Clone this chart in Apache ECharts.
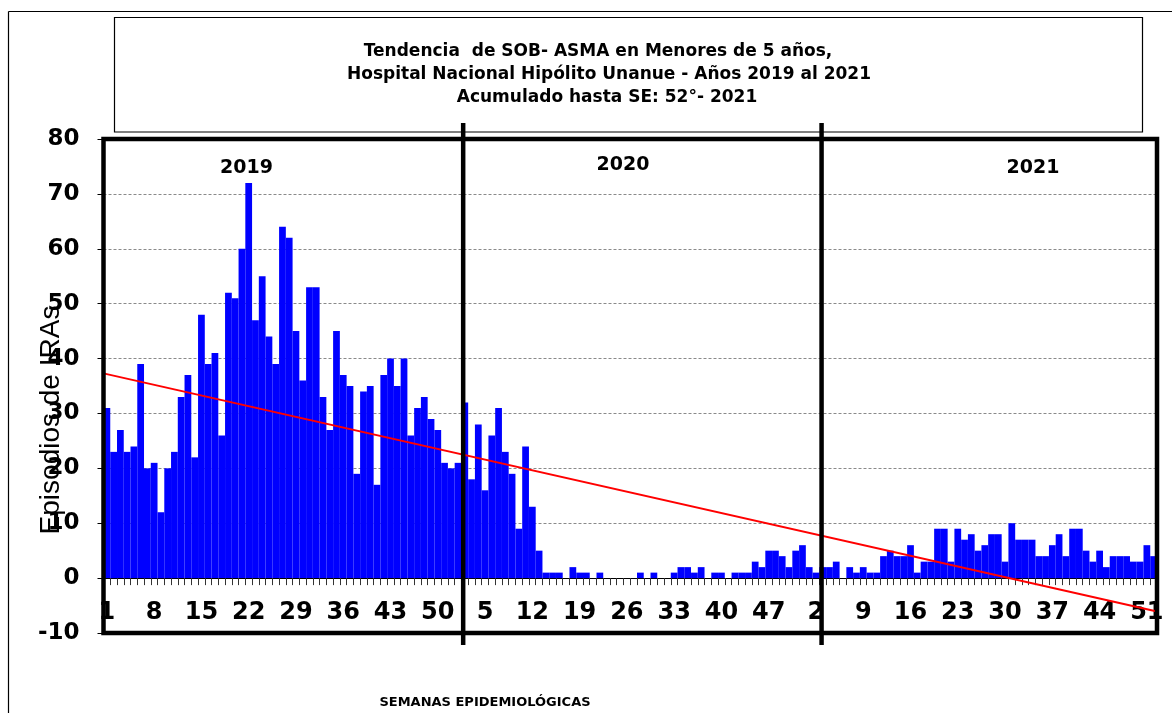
<!DOCTYPE html>
<html><head><meta charset="utf-8">
<script src="https://cdn.jsdelivr.net/npm/echarts@6/dist/echarts.min.js"></script>
<style>html,body{margin:0;padding:0;background:#fff}#c{width:1172px;height:713px}</style>
</head><body><div id="c"></div>
<script>
// ---------------- data ----------------
const years = ['2019', '2020', '2021'];
const cases2019 = [31, 23, 27, 23, 24, 39, 20, 21, 12, 20, 23, 33, 37, 22, 48, 39, 41, 26, 52, 51,
  60, 72, 47, 55, 44, 39, 64, 62, 45, 36, 53, 53, 33, 27, 45, 37, 35, 19, 34, 35,
  17, 37, 40, 35, 40, 26, 31, 33, 29, 27, 21, 20];
const cases2020 = [21, 32, 18, 28, 16, 26, 31, 23, 19, 9, 24, 13, 5, 1, 1, 1, 0, 2, 1, 1,
  0, 1, 0, 0, 0, 0, 0, 1, 0, 1, 0, 0, 1, 2, 2, 1, 2, 0, 1, 1,
  0, 1, 1, 1, 3, 2, 5, 5, 4, 2, 5, 6];
const cases2021 = [2, 1, 2, 2, 3, 0, 2, 1, 2, 1, 1, 4, 5, 4, 4, 6, 1, 3, 3, 9,
  9, 3, 9, 7, 8, 5, 6, 8, 8, 3, 10, 7, 7, 7, 4, 4, 6, 8, 4, 9,
  9, 5, 3, 5, 2, 4, 4, 4, 3, 3, 6, 4];
const trendEnds = [37.3, -6.1];          // linear trend value at left / right plot edge
const yearSeparators = [53.26, 106.33];  // separator positions, in week slots
const yearLabels = ['2019', '2020', '2021'];
const titleLines = [
  'Tendencia  de SOB- ASMA en Menores de 5 años,',
  'Hospital Nacional Hipólito Unanue - Años 2019 al 2021',
  'Acumulado hasta SE: 52°- 2021'
];
const yAxisName = 'Episodios de IRAs';
const xAxisName = 'SEMANAS EPIDEMIOLÓGICAS';
const yMin = -10, yMax = 80, yStep = 10;
const labelEvery = 7;

// ---------------- build ----------------
const series2019to2021 = [cases2019, cases2020, cases2021];
const categories = [];
const values = [];
years.forEach((yr, i) => {
  series2019to2021[i].forEach((v, w) => { categories.push(yr + '-' + (w + 1)); values.push(v); });
});
const nSlots = categories.length;

const G = { left: 103.5, top: 139, width: 1053.5, height: 494 };
const G2 = { top: 123, height: 522 };
const BOLD = '"DejaVu Sans", sans-serif';

const chart = echarts.init(document.getElementById('c'), null, { renderer: 'canvas' });

const txt = (text, x, y, font, extra) => Object.assign({
  type: 'text', x: x, y: y, z: 120, silent: true,
  style: { text: text, font: font, fill: '#000', textAlign: 'center', textVerticalAlign: 'middle' }
}, extra || {});

const graphics = [
  // outer frame (left & top edges visible)
  { type: 'line', silent: true, z: 1, shape: { x1: 8.5, y1: 11.5, x2: 8.5, y2: 713 }, style: { stroke: '#000', lineWidth: 1.2 } },
  { type: 'line', silent: true, z: 1, shape: { x1: 8.5, y1: 11.5, x2: 1172, y2: 11.5 }, style: { stroke: '#000', lineWidth: 1.2 } },
  // title box
  { type: 'rect', silent: true, z: 1, shape: { x: 114.5, y: 17.5, width: 1028, height: 114.5 }, style: { fill: 'none', stroke: '#000', lineWidth: 1.2 } },
  // plot frame
  { type: 'rect', silent: true, z: 100, shape: { x: G.left, y: G.top, width: G.width, height: G.height }, style: { fill: 'none', stroke: '#000', lineWidth: 4.5 } },
  txt(titleLines[0], 598, 51.7, 'bold 17px ' + BOLD),
  txt(titleLines[1], 609, 74.3, 'bold 17px ' + BOLD),
  txt(titleLines[2], 607, 97.5, 'bold 17px ' + BOLD),
  txt(yearLabels[0], 246.5, 168.3, 'bold 19px ' + BOLD),
  txt(yearLabels[1], 623, 165, 'bold 19px ' + BOLD),
  txt(yearLabels[2], 1033, 168, 'bold 19px ' + BOLD),
  txt(xAxisName, 485, 703, 'bold 13px ' + BOLD),
  txt(yAxisName, 51, 420, '28px "Liberation Sans", Arial, sans-serif', { rotation: Math.PI / 2 })
];

const option = {
  animation: false,
  backgroundColor: '#fff',
  grid: [
    { left: G.left, top: G.top, width: G.width, height: G.height, show: false },
    { left: G.left, top: G2.top, width: G.width, height: G2.height, show: false }
  ],
  xAxis: [
    {
      gridIndex: 0, type: 'category', data: categories, boundaryGap: true,
      axisLine: { show: true, onZero: true, lineStyle: { color: '#000', width: 1.2 } },
      axisTick: { show: true, interval: 0, length: 7, lineStyle: { color: '#333', width: 1 } },
      axisLabel: {
        interval: labelEvery - 1, margin: -32, color: '#000',
        fontFamily: BOLD, fontWeight: 'bold', fontSize: 24,
        formatter: v => v.split('-')[1]
      },
      splitLine: { show: false }
    },
    { gridIndex: 0, type: 'value', min: 0, max: nSlots, show: false },
    { gridIndex: 1, type: 'value', min: 0, max: nSlots, show: false }
  ],
  yAxis: [
    {
      gridIndex: 0, type: 'value', min: yMin, max: yMax, interval: yStep,
      axisLine: { show: true, lineStyle: { color: '#000' } },
      axisTick: { show: true, length: 6, lineStyle: { color: '#000' } },
      axisLabel: { margin: 24, color: '#000', fontFamily: BOLD, fontWeight: 'bold', fontSize: 23 },
      splitLine: { show: true, lineStyle: { color: '#8a8a8a', width: 1, type: [3, 2] } }
    },
    { gridIndex: 1, type: 'value', min: 0, max: 1, show: false }
  ],
  graphic: { elements: graphics },
  series: [
    {
      type: 'bar', xAxisIndex: 0, yAxisIndex: 0, data: values,
      barCategoryGap: '0%', barGap: '0%',
      itemStyle: { color: '#0000FF' }, silent: true, z: 2
    },
    {
      type: 'line', xAxisIndex: 1, yAxisIndex: 0,
      data: [[0, trendEnds[0]], [nSlots, trendEnds[1]]],
      showSymbol: false, symbol: 'none', silent: true, z: 4,
      lineStyle: { color: '#FF0000', width: 2 }
    }
  ].concat(yearSeparators.map(s => ({
    type: 'line', xAxisIndex: 2, yAxisIndex: 1,
    data: [[s, 0], [s, 1]], symbol: 'none', silent: true, z: 5, clip: false,
    lineStyle: { color: '#000', width: 4.5 }
  })))
};
chart.setOption(option);
</script></body></html>
